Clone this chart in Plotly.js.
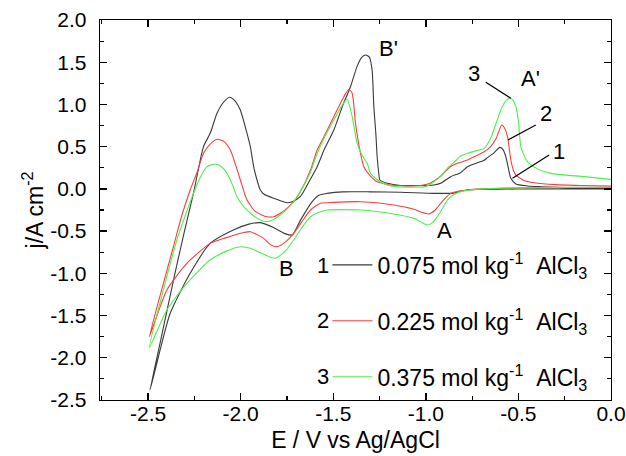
<!DOCTYPE html>
<html>
<head>
<meta charset="utf-8">
<script src="https://cdn.plot.ly/plotly-3.0.1.min.js"></script>
<style>html,body{margin:0;padding:0;background:#fff;}#chart{width:626px;height:456px;}</style>
</head>
<body>
<div id="chart"></div>
<script>
// Series names
var seriesNames = ["0.075 mol kg<sup>-1</sup>\u00a0\u00a0AlCl<sub>3</sub>", "0.225 mol kg<sup>-1</sup>\u00a0\u00a0AlCl<sub>3</sub>", "0.375 mol kg<sup>-1</sup>\u00a0\u00a0AlCl<sub>3</sub>"];
var seriesLabels = ["1", "2", "3"];

// Axis ticks
var xTickVals = [-2.5, -2.0, -1.5, -1.0, -0.5, 0.0];
var xTickText = ["-2.5", "-2.0", "-1.5", "-1.0", "-0.5", "0.0"];
var yTickVals = [-2.5, -2.0, -1.5, -1.0, -0.5, 0.0, 0.5, 1.0, 1.5, 2.0];
var yTickText = ["-2.5", "-2.0", "-1.5", "-1.0", "-0.5", "0.0", "0.5", "1.0", "1.5", "2.0"];

// Curve 1 (0.075 mol/kg): cathodic scan then anodic scan
var e1 = [0, -0.2, -0.4, -0.6, -0.7, -0.775, -0.85, -0.956, -1.136, -1.3, -1.45, -1.533, -1.578, -1.614, -1.677, -1.722, -1.76, -1.82, -1.894, -1.96, -2.04, -2.165, -2.273, -2.381, -2.471, -2.49,
  -2.43, -2.363, -2.309, -2.255, -2.201, -2.165, -2.128, -2.095, -2.06, -2.03, -2.002, -1.966, -1.948, -1.93, -1.912, -1.894, -1.876, -1.822, -1.786, -1.75, -1.722, -1.677, -1.62, -1.587, -1.55, -1.497, -1.45, -1.407, -1.37, -1.345, -1.326, -1.305, -1.29, -1.281, -1.27, -1.263, -1.255, -1.248, -1.208, -1.136, -1.028, -0.992, -0.956, -0.92, -0.866, -0.812, -0.775, -0.721, -0.685, -0.667, -0.635, -0.6, -0.585, -0.568, -0.55, -0.541, -0.514, -0.45, -0.379, -0.2, 0];
var j1 = [0.0, 0.0, 0.0, -0.003, -0.005, -0.01, -0.05, -0.053, -0.04, -0.035, -0.035, -0.053, -0.075, -0.152, -0.37, -0.546, -0.53, -0.46, -0.40, -0.42, -0.487, -0.645, -1.0, -1.473, -2.224, -2.38,
  -1.77, -1.08, -0.55, -0.05, 0.5, 0.658, 0.895, 1.02, 1.085, 1.04, 0.934, 0.658, 0.5, 0.263, 0.105, -0.013, -0.06, -0.112, -0.14, -0.164, -0.152, -0.09, 0.13, 0.263, 0.46, 0.697, 0.98, 1.21, 1.46, 1.56, 1.585, 1.56, 1.4, 0.974, 0.65, 0.381, 0.2, 0.105, 0.066, 0.04, 0.04, 0.04, 0.046, 0.066, 0.145, 0.192, 0.263, 0.31, 0.34, 0.37, 0.42, 0.492, 0.47, 0.381, 0.2, 0.125, 0.058, 0.035, 0.026, 0.012, 0.007];

// Curve 2 (0.225 mol/kg)
var e2 = [0, -0.4, -0.7, -0.775, -0.83, -0.866, -0.9, -0.92, -0.95, -0.983, -1.02, -1.064, -1.173, -1.353, -1.5, -1.569, -1.623, -1.67, -1.714, -1.76, -1.804, -1.84, -1.876, -1.948, -2.002, -2.08, -2.165, -2.291, -2.399, -2.493,
  -2.43, -2.363, -2.32, -2.273, -2.235, -2.201, -2.165, -2.128, -2.09, -2.056, -2.03, -2.002, -1.966, -1.92, -1.858, -1.82, -1.786, -1.75, -1.714, -1.67, -1.623, -1.587, -1.55, -1.497, -1.443, -1.416, -1.398, -1.38, -1.353, -1.335, -1.317, -1.29, -1.263, -1.245, -1.2, -1.1, -1.028, -0.975, -0.92, -0.87, -0.83, -0.775, -0.73, -0.685, -0.65, -0.62, -0.59, -0.575, -0.559, -0.541, -0.527, -0.514, -0.47, -0.415, -0.3, -0.15, 0];
var j2 = [0.02, 0.015, 0.0, -0.013, -0.03, -0.053, -0.12, -0.171, -0.25, -0.297, -0.28, -0.242, -0.19, -0.152, -0.16, -0.171, -0.25, -0.39, -0.526, -0.63, -0.685, -0.66, -0.586, -0.507, -0.526, -0.58, -0.645, -0.882, -1.197, -1.75,
  -1.22, -0.68, -0.33, -0.013, 0.2, 0.421, 0.53, 0.587, 0.56, 0.46, 0.3, 0.105, -0.132, -0.27, -0.33, -0.33, -0.289, -0.23, -0.152, 0.0, 0.224, 0.46, 0.62, 0.855, 1.092, 1.18, 1.132, 0.776, 0.421, 0.263, 0.2, 0.13, 0.085, 0.073, 0.05, 0.035, 0.04, 0.07, 0.15, 0.26, 0.303, 0.342, 0.39, 0.44, 0.5, 0.6, 0.757, 0.72, 0.618, 0.342, 0.22, 0.164, 0.1, 0.073, 0.05, 0.04, 0.034];

// Curve 3 (0.375 mol/kg)
var e3 = [0, -0.4, -0.7, -0.812, -0.85, -0.884, -0.91, -0.938, -0.965, -0.992, -1.02, -1.064, -1.173, -1.353, -1.533, -1.58, -1.623, -1.67, -1.714, -1.76, -1.813, -1.85, -1.9, -1.948, -2.002, -2.08, -2.165, -2.291, -2.399, -2.493,
  -2.43, -2.345, -2.3, -2.255, -2.22, -2.182, -2.137, -2.105, -2.074, -2.045, -2.02, -1.984, -1.948, -1.894, -1.858, -1.82, -1.786, -1.75, -1.714, -1.67, -1.623, -1.587, -1.55, -1.497, -1.455, -1.425, -1.398, -1.371, -1.345, -1.317, -1.299, -1.27, -1.245, -1.2, -1.1, -1.0, -0.956, -0.92, -0.884, -0.84, -0.812, -0.775, -0.73, -0.685, -0.65, -0.62, -0.595, -0.565, -0.545, -0.53, -0.514, -0.5, -0.487, -0.47, -0.451, -0.4, -0.325, -0.144, 0];
var j3 = [0.02, 0.015, 0.0, -0.033, -0.07, -0.132, -0.23, -0.33, -0.4, -0.428, -0.4, -0.349, -0.297, -0.25, -0.25, -0.28, -0.33, -0.46, -0.605, -0.74, -0.822, -0.8, -0.75, -0.704, -0.685, -0.74, -0.842, -1.118, -1.434, -1.877,
  -1.3, -0.605, -0.32, -0.053, 0.13, 0.263, 0.295, 0.265, 0.184, 0.05, -0.093, -0.211, -0.289, -0.369, -0.388, -0.36, -0.309, -0.24, -0.152, 0.0, 0.2, 0.42, 0.6, 0.816, 0.98, 1.061, 0.855, 0.54, 0.4, 0.303, 0.184, 0.12, 0.085, 0.04, 0.02, 0.03, 0.085, 0.15, 0.243, 0.33, 0.39, 0.421, 0.45, 0.48, 0.6, 0.78, 0.934, 1.05, 1.073, 1.05, 0.974, 0.8, 0.5, 0.4, 0.322, 0.24, 0.184, 0.145, 0.113];

var colors = ["#3a3a3a", "#ff3c3c", "#4cf04c"];
var xs = [e1, e2, e3], ys = [j1, j2, j3];

var FONT = "Liberation Sans, Arial, Helvetica, sans-serif";
var traces = xs.map(function (x, i) {
  return {
    x: x, y: ys[i], type: "scatter", mode: "lines",
    name: seriesNames[i], legendgroup: "g" + i,
    line: {color: colors[i], width: 1.1, shape: "spline", smoothing: 0.6}
  };
});

// Peak labels and pointer lines
var peakLabels = [
  {t: "B'", x: -1.201, y: 1.668},
  {t: "A'", x: -0.433, y: 1.313},
  {t: "A", x: -0.898, y: -0.487},
  {t: "B", x: -1.753, y: -0.937},
  {t: "3", x: -0.741, y: 1.372},
  {t: "2", x: -0.352, y: 0.887},
  {t: "1", x: -0.281, y: 0.437}
];
var pointers = [
  [-0.676, 1.262, -0.541, 1.073],
  [-0.406, 0.757, -0.556, 0.579],
  [-0.334, 0.401, -0.532, 0.125]
];

var annotations = peakLabels.map(function (p) {
  return {x: p.x, y: p.y, xref: "x", yref: "y", text: p.t, showarrow: false,
    xanchor: "center", yanchor: "middle",
    font: {family: FONT, size: 22, color: "#000"}};
});
var legendY = [0.355, 0.2105, 0.063];
seriesLabels.forEach(function (s, i) {
  annotations.push({x: 0.436, y: legendY[i], xref: "paper", yref: "paper", text: s, showarrow: false,
    xanchor: "center", yanchor: "middle",
    font: {family: FONT, size: 22, color: "#000"}});
});
var shapes = pointers.map(function (p) {
  return {type: "line", xref: "x", yref: "y", x0: p[0], y0: p[1], x1: p[2], y1: p[3],
    line: {color: "#000", width: 1.2}};
});

var axisCommon = {
  showgrid: false, zeroline: false, showline: true, linecolor: "#000", linewidth: 1.3,
  mirror: "ticks", ticks: "inside", ticklen: 7, tickwidth: 1.3, tickcolor: "#000",
  tickfont: {family: FONT, size: 21, color: "#000"}, tickmode: "array"
};

var layout = {
  width: 626, height: 456,
  margin: {l: 100, r: 15, t: 20, b: 56},
  paper_bgcolor: "#fff", plot_bgcolor: "#fff",
  showlegend: true,
  legend: {x: 0.445, y: 0.412, xanchor: "left", yanchor: "top", bgcolor: "rgba(0,0,0,0)",
    font: {family: FONT, size: 23, color: "#000"}, tracegroupgap: 23, itemwidth: 40},
  xaxis: Object.assign({}, axisCommon, {
    range: [-2.76, 0], tickvals: xTickVals, ticktext: xTickText, ticklabelstandoff: -6,
    minor: {tickvals: [-2.75, -2.25, -1.75, -1.25, -0.75, -0.25], ticks: "inside", ticklen: 4, tickcolor: "#000", tickwidth: 1.2},
    title: {text: "E / V vs Ag/AgCl", font: {family: FONT, size: 23, color: "#000"}, standoff: 8}
  }),
  yaxis: Object.assign({}, axisCommon, {
    range: [-2.5, 2.0], tickvals: yTickVals, ticktext: yTickText, ticklabelstandoff: 8,
    minor: {dtick: 0.25, ticks: "inside", ticklen: 4, tickcolor: "#000", tickwidth: 1.2},
    title: {text: "j/A cm<sup>-2</sup>", font: {family: FONT, size: 23, color: "#000"}, standoff: 0}
  }),
  annotations: annotations,
  shapes: shapes
};

Plotly.newPlot("chart", traces, layout, {displayModeBar: false, staticPlot: true});
</script>
</body>
</html>
